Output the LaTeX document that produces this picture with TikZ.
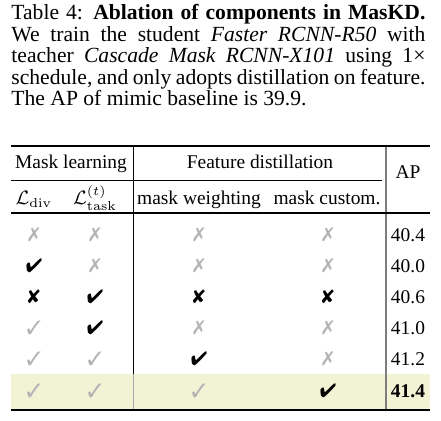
\documentclass[tikz,border=0pt]{standalone}
\usepackage[no-math]{fontspec}
\setmainfont{Liberation Serif}
\usepackage{pifont}
\definecolor{hlrow}{RGB}{242,242,213}
\definecolor{markgrey}{RGB}{180,180,180}
\definecolor{vlgrey}{RGB}{125,125,125}
\newcommand{\mkgx}{\textcolor{markgrey}{\ding{55}}}
\newcommand{\mkgc}{\textcolor{markgrey}{\ding{51}}}
\newcommand{\mkbx}{\ding{56}}
\newcommand{\mkbc}{\ding{52}}
\newlength\capw
\setlength\capw{191.7pt}
\begin{document}
\begin{tikzpicture}[x=0.463pt,y=-0.463pt,
  capline/.style={anchor=base west,inner sep=0pt,font=\fontsize{10}{12}\selectfont},
  cell/.style={anchor=base,inner sep=0pt,font=\fontsize{9}{11}\selectfont},
  cellmark/.style={anchor=center,inner sep=0pt,font=\fontsize{9}{11}\selectfont},
  heavyrule/.style={line width=0.8pt},
  lightrule/.style={line width=0.45pt},
  vrule/.style={line width=0.45pt}]
\useasboundingbox (0,0) rectangle (441,421);
% caption
\node[capline] (c1) at (11,20) {\makebox[\capw][s]{Table 4: \textbf{Ablation of components in MasKD.}}};
\node[capline] (c2) at (11,41.5) {\makebox[\capw][s]{We train the student \textit{Faster RCNN-R50} with}};
\node[capline] (c3) at (11,63) {\makebox[\capw][s]{teacher \textit{Cascade Mask RCNN-X101} using 1×}};
\node[capline] (c4) at (11,84.5) {\makebox[\capw][s]{schedule, and only adopts distillation on feature.}};
\node[capline] (c5) at (11,106) {The AP of mimic baseline is 39.9.};
% highlight row
\fill[hlrow] (11,374) rectangle (430,409);
% rules
\coordinate (tl) at (11,146); \coordinate (tr) at (430,146);
\coordinate (ml) at (11,180); \coordinate (mr) at (382,180);
\coordinate (hl) at (11,213); \coordinate (hr) at (430,213);
\coordinate (bl) at (11,410); \coordinate (br) at (430,410);
\coordinate (v1t) at (133,146); \coordinate (v1m) at (133,374); \coordinate (v1b) at (133,409);
\coordinate (v2t) at (386,146); \coordinate (v2b) at (386,409);
\draw[vrule,black] (v1t) -- (v1m);
\draw[vrule,black!35] (v1m) -- (v1b);
\draw[vrule,vlgrey,line width=0.6pt] (v2t) -- (v2b);
\draw[heavyrule] (tl) -- (tr);
\draw[lightrule] (ml) -- (mr);
\draw[heavyrule] (hl) -- (hr);
\draw[heavyrule] (bl) -- (br);
% header
\node[cell] (h1) at (71,169) {Mask learning};
\node[cell] (h2) at (260,169) {Feature distillation};
\node[cell] (h3) at (408,179) {AP};
\node[cell] (h4) at (34,205) {$\mathcal{L}_{\mathrm{div}}$};
\node[cell] (h5) at (95,205) {$\mathcal{L}^{(t)}_{\mathrm{task}}$};
\node[cell] (h6) at (199,205) {mask weighting};
\node[cell] (h7) at (327,205) {mask custom.};
% rows
\node[cellmark] (r1a) at (34,235) {\mkgx};
\node[cellmark] (r1b) at (95,235) {\mkgx};
\node[cellmark] (r1c) at (199,235) {\mkgx};
\node[cellmark] (r1d) at (328,235) {\mkgx};
\node[cell] (r1e) at (408,241.5) {40.4};
\node[cellmark] (r2a) at (34,266) {\mkbc};
\node[cellmark] (r2b) at (95,266) {\mkgx};
\node[cellmark] (r2c) at (199,266) {\mkgx};
\node[cellmark] (r2d) at (328,266) {\mkgx};
\node[cell] (r2e) at (408,272.5) {40.0};
\node[cellmark] (r3a) at (34,297) {\mkbx};
\node[cellmark] (r3b) at (95,297) {\mkbc};
\node[cellmark] (r3c) at (199,297) {\mkbx};
\node[cellmark] (r3d) at (328,297) {\mkbx};
\node[cell] (r3e) at (408,303.5) {40.6};
\node[cellmark] (r4a) at (34,328) {\mkgc};
\node[cellmark] (r4b) at (95,328) {\mkbc};
\node[cellmark] (r4c) at (199,328) {\mkgx};
\node[cellmark] (r4d) at (328,328) {\mkgx};
\node[cell] (r4e) at (408,334.5) {41.0};
\node[cellmark] (r5a) at (34,359) {\mkgc};
\node[cellmark] (r5b) at (95,359) {\mkgc};
\node[cellmark] (r5c) at (199,359) {\mkbc};
\node[cellmark] (r5d) at (328,359) {\mkgx};
\node[cell] (r5e) at (408,365.5) {41.2};
\node[cellmark] (r6a) at (34,391) {\mkgc};
\node[cellmark] (r6b) at (95,391) {\mkgc};
\node[cellmark] (r6c) at (199,391) {\mkgc};
\node[cellmark] (r6d) at (328,391) {\mkbc};
\node[cell] (r6e) at (408,397.5) {\textbf{41.4}};
\end{tikzpicture}
\end{document}
